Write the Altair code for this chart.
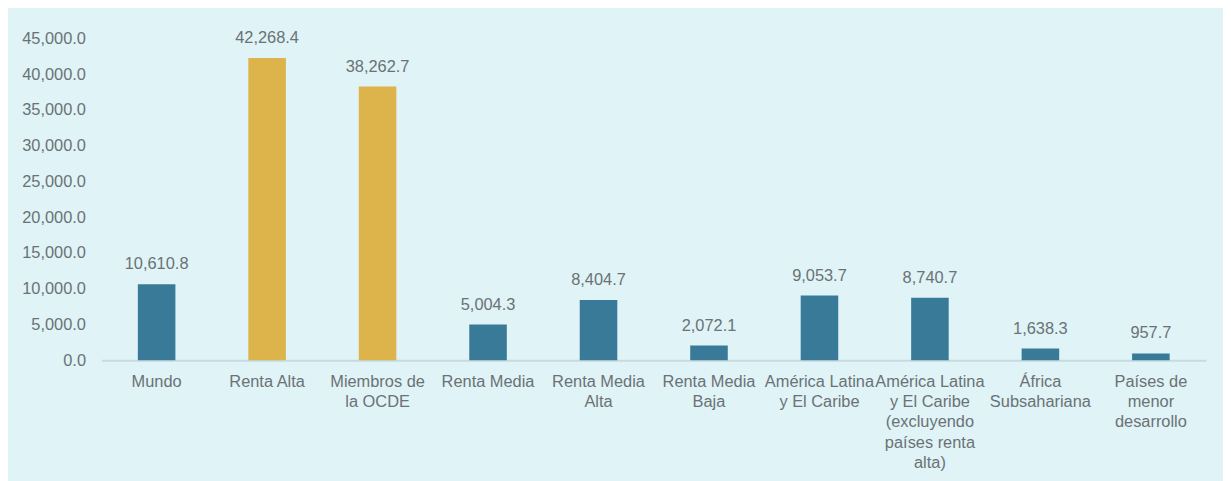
import altair as alt
import pandas as pd

categories = [
    "Mundo",
    "Renta Alta",
    "Miembros de\nla OCDE",
    "Renta Media",
    "Renta Media\nAlta",
    "Renta Media\nBaja",
    "América Latina\ny El Caribe",
    "América Latina\ny El Caribe\n(excluyendo\npaíses renta\nalta)",
    "África\nSubsahariana",
    "Países de\nmenor\ndesarrollo",
]
values = [10610.8, 42268.4, 38262.7, 5004.3, 8404.7, 2072.1, 9053.7, 8740.7, 1638.3, 957.7]
groups = ["b", "a", "a", "b", "b", "b", "b", "b", "b", "b"]
y_ticks = [0, 5000, 10000, 15000, 20000, 25000, 30000, 35000, 40000, 45000]

df = pd.DataFrame({"cat": categories, "val": values, "grp": groups})

FONT = "Liberation Sans"
TXT = "#6a7275"

x = alt.X(
    "cat:N",
    sort=categories,
    title=None,
    scale=alt.Scale(paddingInner=0.66, paddingOuter=0.33),
    axis=alt.Axis(
        labelAngle=0,
        labelExpr="split(datum.value, '\\n')",
        labelLineHeight=20.5,
        labelPadding=13,
        labelFont=FONT,
        labelFontSize=16.5,
        labelColor=TXT,
        ticks=False,
        domainColor="#c6dbe0",
        domainWidth=2,
        grid=False,
        labelLimit=200,
        labelOverlap=False,
    ),
)

y = alt.Y(
    "val:Q",
    title=None,
    scale=alt.Scale(domain=[0, 45000], nice=False),
    axis=alt.Axis(
        values=y_ticks,
        tickCount=10,
        format=",.1f",
        domain=False,
        ticks=False,
        grid=False,
        labelPadding=16,
        labelFont=FONT,
        labelFontSize=16.5,
        labelColor=TXT,
        labelOverlap=False,
        labelFlush=False,
        labelBound=False,
    ),
)

base = alt.Chart(df).encode(x=x, y=y)

bars = base.mark_bar().encode(
    color=alt.Color(
        "grp:N",
        scale=alt.Scale(domain=["a", "b"], range=["#dcb44b", "#3a7a99"]),
        legend=None,
    ),
)

labels = base.mark_text(
    font=FONT, fontSize=16.5, color=TXT, baseline="bottom", dy=-12
).encode(
    text=alt.Text("val:Q", format=",.1f"),
)

chart = (
    alt.layer(bars, labels)
    .properties(
        width=1112,
        height=324,
        background="#e0f3f7",
        padding={"left": 94, "top": 29, "right": 17, "bottom": 120},
        autosize=alt.AutoSizeParams(type="none"),
    )
    .configure_view(stroke=None)
)

chart.save("out.html", embed_options={"renderer": "svg", "actions": False})
